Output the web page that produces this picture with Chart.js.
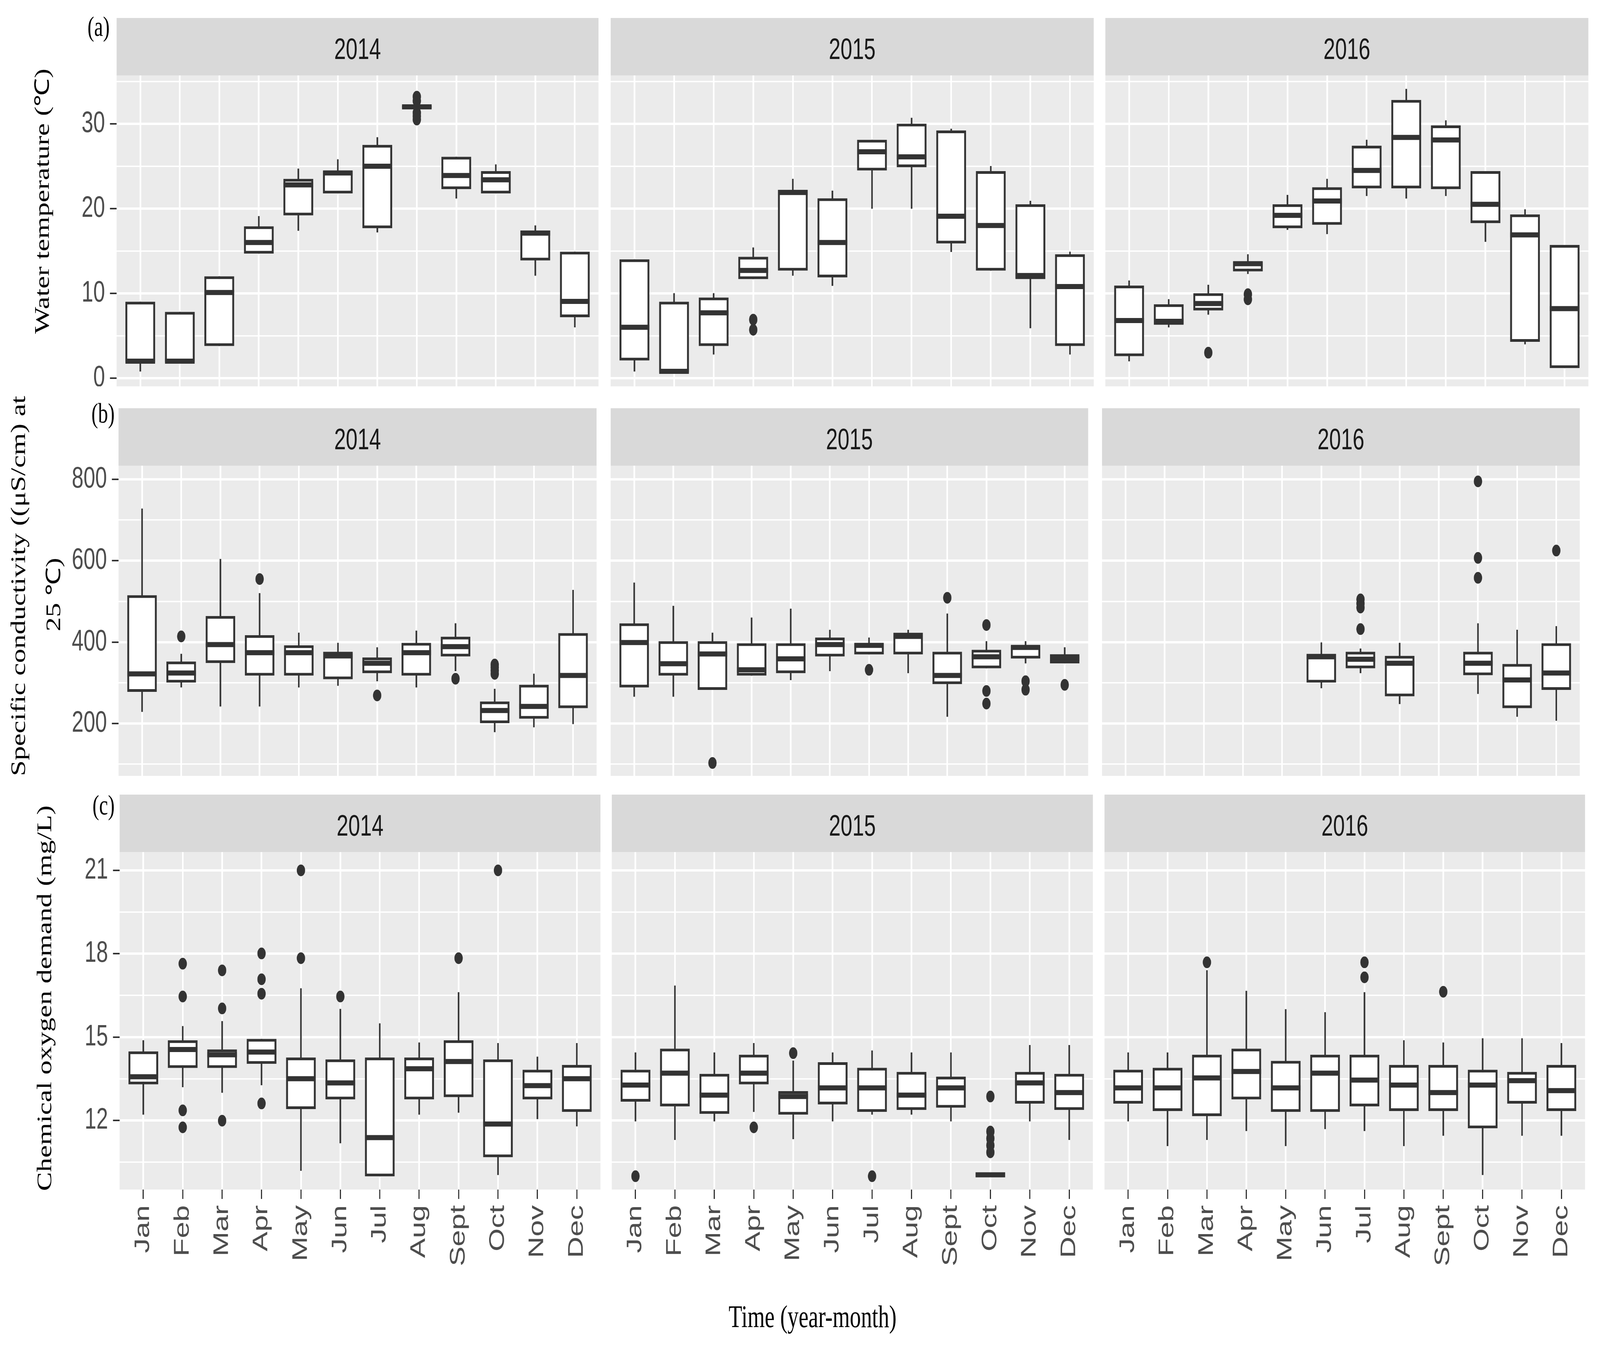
<!DOCTYPE html>
<html><head><meta charset="utf-8">
<script src="https://cdn.jsdelivr.net/npm/chart.js@4.4.1/dist/chart.umd.min.js"></script>
<style>
html,body{margin:0;padding:0;background:#fff;width:100vw;height:100vh;overflow:hidden}
#stage{position:absolute;left:0;top:0;width:5777px;height:3448px;transform-origin:0 0;background:#fff}
.pn{position:absolute}
.strip{position:absolute;background:#D9D9D9;color:#1A1A1A;font-family:"Liberation Sans",Arial,sans-serif;font-size:76px;text-align:center;box-sizing:border-box}
.t{position:absolute;font-family:"Liberation Serif","Times New Roman",serif;color:#000;white-space:nowrap;line-height:1}
</style></head><body>
<div id="stage"></div>
<script>
// ---------- categories / ticks ----------
const months = ['Jan','Feb','Mar','Apr','May','Jun','Jul','Aug','Sept','Oct','Nov','Dec'];
const years = ['2014','2015','2016'];
const tempTicks = [0,10,20,30];
const tempGrid  = [0,5,10,15,20,25,30,35];
const condTicks = [200,400,600,800];
const condGrid  = [100,200,300,400,500,600,700,800];
const codTicks  = [12,15,18,21];
const codGrid   = [10.5,12,13.5,15,16.5,18,19.5,21];

// ---------- box statistics per month: [lower whisker, Q1, median, Q3, upper whisker] ----------
// (a) Water temperature
const temp2014 = [
 [0.8,1.9,2.0,9.0,9.0],[1.9,1.9,2.0,7.8,7.8],[3.8,3.8,10.1,12.0,12.0],[14.7,14.7,16.0,17.9,19.1],
 [17.4,19.2,22.8,23.5,24.7],[21.8,21.8,24.2,24.4,25.8],[17.2,17.7,25.0,27.5,28.4],[31.9,31.9,32.0,32.1,32.1],
 [21.2,22.3,23.9,26.1,26.1],[21.8,21.8,23.4,24.4,25.2],[12.1,13.9,17.1,17.4,18.0],[6.0,7.2,9.05,14.9,14.9]];
const temp2014Out = [[7,33.2],[7,32.7],[7,31.3],[7,30.9],[7,30.5]];
const temp2015 = [
 [0.8,2.1,6.0,14.0,14.0],[0.7,0.7,0.8,9.0,10.0],[2.8,3.8,7.7,9.5,10.0],[11.7,11.7,12.7,14.3,15.4],
 [12.1,12.7,21.9,22.2,23.5],[10.9,11.9,16.0,21.2,22.1],[20.0,24.5,26.7,28.1,28.1],[20.0,24.9,26.1,30.0,30.7],
 [14.9,15.9,19.1,29.2,29.4],[12.7,12.7,18.0,24.4,25.0],[5.9,11.7,12.1,20.5,20.9],[2.8,3.8,10.8,14.6,14.9]];
const temp2015Out = [[3,6.9],[3,5.7]];
const temp2016 = [
 [2.0,2.6,6.8,10.9,11.5],[6.0,6.3,6.7,8.7,9.3],[7.5,8.0,8.8,10.0,11.0],[12.3,12.6,13.5,13.7,14.6],
 [17.5,17.7,19.2,20.5,21.6],[17.0,18.1,20.9,22.5,23.5],[21.5,22.4,24.5,27.4,28.1],[21.2,22.4,28.4,32.8,34.1],
 [21.5,22.3,28.1,29.8,30.4],[16.1,18.3,20.5,24.4,24.4],[4.0,4.3,16.9,19.3,19.9],[1.2,1.2,8.2,15.7,15.7]];
const temp2016Out = [[2,3.0],[3,9.9],[3,9.3]];

// (b) Specific conductivity
const cond2014 = [
 [229,278,322,515,728],[289,301,324,352,371],[242,349,394,464,604],[242,318,374,417,520],
 [289,318,374,392,423],[293,309,366,376,398],[304,324,348,362,387],[289,318,374,398,428],
 [329,365,389,413,446],[179,201,232,254,285],[191,212,242,295,322],[199,238,318,422,528]];
const cond2014Out = [[1,414],[3,555],[6,269],[8,310],[9,345],[9,338],[9,330],[9,322]];
const cond2015 = [
 [266,289,399,446,546],[266,318,347,402,489],[283,283,371,402,423],[318,318,332,397,460],
 [307,324,359,397,482],[329,365,394,411,430],[370,370,392,397,411],[324,370,414,423,430],
 [217,297,318,376,470],[336,336,364,381,402],[348,360,387,391,402],[348,348,360,370,387]];
const cond2015Out = [[2,103],[6,332],[8,509],[9,442],[9,280],[9,249],[10,304],[10,283],[11,295]];
const cond2016 = [
 null,null,null,null,null,
 [287,301,364,371,399],[324,336,358,376,384],[248,267,348,366,398],null,
 [273,319,348,376,446],[217,238,307,346,430],[207,283,324,397,439]];
const cond2016Out = [[6,505],[6,495],[6,485],[6,432],[9,795],[9,607],[9,558],[11,625]];

// (c) Chemical oxygen demand
const cod2014 = [
 [12.21,13.30,13.57,14.48,14.88],[13.2,13.89,14.55,14.88,15.39],[13.0,13.89,14.36,14.55,15.57],[13.27,14.04,14.46,14.93,14.93],
 [10.19,12.41,13.50,14.26,16.75],[11.18,12.76,13.35,14.19,16.01],[9.99,9.99,11.38,14.26,15.49],[12.21,12.76,13.86,14.26,14.80],
 [12.28,12.84,14.12,14.88,16.61],[10.04,10.68,11.87,14.19,14.78],[12.05,12.76,13.25,13.82,14.29],[11.79,12.31,13.50,13.99,14.78]];
const cod2014Out = [[1,17.64],[1,16.46],[1,12.36],[1,11.75],[2,17.40],[2,16.03],[2,11.99],[3,18.01],[3,17.08],[3,16.56],[3,12.61],[4,21.0],[4,17.84],[5,16.46],[8,17.84],[9,21.0]];
const cod2015 = [
 [11.97,12.68,13.27,13.82,14.44],[11.30,12.51,13.70,14.58,16.85],[11.97,12.24,12.91,13.67,14.44],[12.31,13.30,13.70,14.36,14.78],
 [11.33,12.21,12.86,13.05,14.15],[11.97,12.58,13.17,14.09,14.44],[12.21,12.31,13.17,13.89,14.51],[12.21,12.38,12.91,13.74,14.44],
 [11.97,12.46,13.17,13.57,14.44],[10.04,10.04,10.04,10.04,10.04],[11.97,12.61,13.35,13.74,14.71],[11.30,12.38,13.0,13.67,14.71]];
const cod2015Out = [[0,9.99],[3,11.75],[4,14.42],[6,9.99],[9,12.86],[9,11.6],[9,11.35],[9,11.1],[9,10.85]];
const cod2016 = [
 [11.97,12.61,13.17,13.82,14.44],[11.08,12.34,13.17,13.89,14.44],[11.30,12.16,13.53,14.36,17.40],[11.62,12.76,13.76,14.58,16.66],
 [11.08,12.31,13.17,14.14,16.0],[11.69,12.31,13.70,14.36,15.89],[11.62,12.51,13.45,14.36,16.61],[11.08,12.34,13.27,13.99,14.88],
 [11.45,12.34,13.0,13.99,14.80],[10.04,11.72,13.27,13.82,14.95],[11.45,12.61,13.43,13.74,14.95],[11.45,12.34,13.07,13.99,14.78]];
const cod2016Out = [[2,17.69],[6,17.69],[6,17.15],[8,16.63]];

// ---------- layout (design pixels; the 5777 x 3448 stage is fitted to the window) ----------
const STAGE_W = 5777, STAGE_H = 3448;
const LABEL_LEFT = 240;
const X_AXIS_H = 210;
const ROWS = [
 {tag:'(a)', tagTop:32, tagLeft:316, stripTop:46, plotTop:193, plotBottom:989,
  cols:[[421,2161],[2205,3949],[3991,5735]], yMin:-0.97, yMax:35.71,
  grid:tempGrid, major:tempTicks, stats:[temp2014,temp2015,temp2016], outs:[temp2014Out,temp2015Out,temp2016Out], xLabels:false},
 {tag:'(b)', tagTop:1022, tagLeft:330, stripTop:1045, plotTop:1192, plotBottom:1986,
  cols:[[428,2154],[2205,3929],[3979,5704]], yMin:71.4, yMax:833.6,
  grid:condGrid, major:condTicks, stats:[cond2014,cond2015,cond2016], outs:[cond2014Out,cond2015Out,cond2016Out], xLabels:false},
 {tag:'(c)', tagTop:2025, tagLeft:334, stripTop:2034, plotTop:2181, plotBottom:3045,
  cols:[[432,2168],[2209,3946],[3988,5723]], yMin:9.51, yMax:21.66,
  grid:codGrid, major:codTicks, stats:[cod2014,cod2015,cod2016], outs:[cod2014Out,cod2015Out,cod2016Out], xLabels:true}
];

const stage = document.getElementById('stage');
const sx = window.innerWidth / STAGE_W, sy = window.innerHeight / STAGE_H;
stage.style.transform = `scale(${sx}, ${sy})`;

const bgPlugin = {
  id:'panelBg',
  beforeDraw(chart){
    const a = chart.chartArea, ctx = chart.ctx;
    ctx.save(); ctx.fillStyle = '#EBEBEB';
    ctx.fillRect(a.left, a.top, a.right - a.left, a.bottom - a.top);
    ctx.restore();
  }
};

function addText(cls, html, css){
  const d = document.createElement('div');
  d.className = cls; d.innerHTML = html; d.style.cssText = css;
  stage.appendChild(d); return d;
}
function noPad(s){ s.paddingTop = 0; s.paddingBottom = 0; s.paddingLeft = 0; s.paddingRight = 0; }

function makePanel(row, ci){
  const [L, R] = row.cols[ci];
  const first = ci === 0;
  const left = first ? LABEL_LEFT : L;
  const yW = L - left;
  const plotH = row.plotBottom - row.plotTop;
  const xH = row.xLabels ? X_AXIS_H : 0;
  const W = 0.75 * (R - L) / 12.2;
  const sh = row.plotTop - row.stripTop;

  addText('strip', years[ci], `left:${L}px;top:${row.stripTop}px;width:${R-L}px;height:${sh}px;line-height:${sh-11}px;padding-top:11px;`);

  const div = document.createElement('div');
  div.className = 'pn';
  const cw = R - left, ch = plotH + xH;
  div.style.cssText = `left:${left}px;top:${row.plotTop}px;width:${cw}px;height:${ch}px`;
  const cv = document.createElement('canvas');
  cv.width = cw; cv.height = ch; cv.style.width = cw + 'px'; cv.style.height = ch + 'px';
  div.appendChild(cv); stage.appendChild(div);

  const stats = row.stats[ci];
  const wh = [], bx = [], md = [];
  stats.forEach((s, i) => {
    if (!s) return;
    wh.push({x:i, y:[s[0], s[4]]});
    bx.push({x:i, y:[s[1], s[3]]});
    md.push({x:i, y:s[2]});
  });
  const od = row.outs[ci].map(([i, v]) => ({x:i, y:v}));
  const isMajor = v => row.major.includes(v);

  new Chart(cv, {
    type:'bar',
    data:{datasets:[
      {type:'bar', data:wh, barThickness:5, backgroundColor:'#333333', borderWidth:0, grouped:false, order:4},
      {type:'bar', data:bx, barThickness:W, backgroundColor:'#FFFFFF', borderColor:'#333333', borderWidth:7, borderSkipped:false, grouped:false, order:3},
      {type:'scatter', data:md, pointStyle:'line', pointRadius:W/2, pointBorderWidth:13, pointBorderColor:'#333333', borderColor:'#333333', borderWidth:13, order:2, clip:false},
      {type:'scatter', data:od, pointStyle:'circle', pointRadius:15, pointBackgroundColor:'#333333', backgroundColor:'#333333', pointBorderWidth:0, borderWidth:0, order:1, clip:false}
    ]},
    options:{
      responsive:false, animation:false, devicePixelRatio:1, events:[],
      layout:{padding:0, autoPadding:false},
      plugins:{legend:{display:false}, tooltip:{enabled:false}, title:{display:false}},
      scales:{
        x:{
          type:'linear', min:-0.6, max:11.6, offset:false,
          afterBuildTicks: s => { s.ticks = months.map((m, i) => ({value:i})); },
          afterFit: s => { s.height = xH; noPad(s); },
          border:{display:false},
          grid:{color:'#FFFFFF', lineWidth:6, offset:false, drawTicks:row.xLabels, tickLength:24, tickColor:'#333333', tickWidth:4},
          ticks:{display:row.xLabels, autoSkip:false, minRotation:90, maxRotation:90, padding:16,
                 color:'#4D4D4D', font:{family:'Liberation Sans', size:76, lineHeight:1.05},
                 callback: v => months[v]}
        },
        y:{
          type:'linear', min:row.yMin, max:row.yMax,
          afterBuildTicks: s => { s.ticks = row.grid.map(v => ({value:v})); },
          afterFit: s => { s.width = yW; noPad(s); },
          border:{display:false},
          grid:{color:'#FFFFFF',
                lineWidth: c => (c.tick && isMajor(c.tick.value)) ? 6 : 3.5,
                drawTicks:first, tickLength:24, tickWidth:4,
                tickColor: c => (c.tick && isMajor(c.tick.value)) ? '#333333' : 'rgba(0,0,0,0)'},
          ticks:{display:first, padding:18, color:'#4D4D4D', font:{family:'Liberation Sans', size:76},
                 callback: v => isMajor(v) ? String(v) : ''}
        }
      }
    },
    plugins:[bgPlugin]
  });
}

ROWS.forEach(row => {
  addText('t', row.tag, `left:${row.tagLeft}px;top:${row.tagTop}px;font-size:72px;line-height:72px;`);
  [0,1,2].forEach(ci => makePanel(row, ci));
});

// axis titles
const rot = (txt, cx, cy, size) => addText('t', txt,
  `left:${cx}px;top:${cy}px;font-size:${size}px;transform:translate(-50%,-50%) rotate(-90deg);`);
rot('Water temperature (℃)', 152, 515, 73);
rot('Specific conductivity ((μS/cm) at', 66, 1500, 73);
rot('25 ℃)', 192, 1522, 73);
rot('Chemical oxygen demand (mg/L)', 160, 2555, 73);
addText('t', 'Time (year-month)', `left:2934px;top:3370px;font-size:80px;transform:translate(-50%,-50%);`);
</script>
</body></html>
